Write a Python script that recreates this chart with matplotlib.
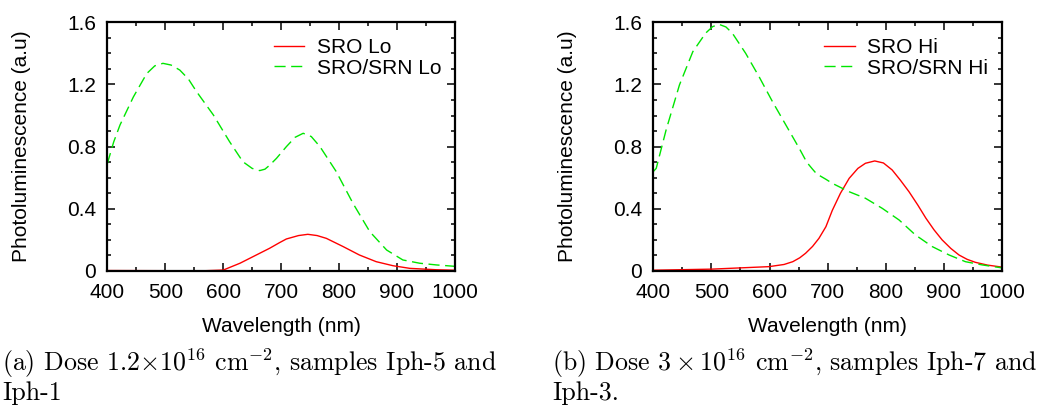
import matplotlib
matplotlib.use("Agg")
import matplotlib.pyplot as plt
from matplotlib.ticker import MultipleLocator, FixedLocator, FixedFormatter

# ---------------- data ----------------
lo_srn_wl = [400, 411, 422, 445, 468, 482, 496, 510, 525, 540, 554, 583, 611, 634, 650, 663, 672,
             680, 692, 709, 724, 738, 752, 767, 795, 824, 853, 882, 910, 939, 968, 1000]
lo_srn_pl = [0.69, 0.83, 0.94, 1.12, 1.27, 1.32, 1.336, 1.325, 1.293, 1.235, 1.154, 1.004, 0.832,
             0.703, 0.660, 0.646, 0.655, 0.68, 0.725, 0.80, 0.860, 0.886, 0.865, 0.80, 0.64, 0.435,
             0.253, 0.135, 0.071, 0.05, 0.039, 0.03]

lo_sro_wl = [400, 500, 570, 600, 629, 663, 680, 697, 709, 730, 746, 762, 778, 807, 835, 864, 893,
             922, 968, 1000]
lo_sro_pl = [0.003, 0.002, 0.002, 0.006, 0.05, 0.114, 0.146, 0.182, 0.206, 0.228, 0.236, 0.228,
             0.21, 0.157, 0.103, 0.06, 0.034, 0.017, 0.008, 0.005]

hi_srn_wl = [400, 405, 422, 445, 468, 490, 502, 513, 525, 536, 559, 582, 605, 628, 651, 664, 674,
             681, 697, 708, 737, 765, 794, 823, 851, 880, 909, 937, 966, 1000]
hi_srn_pl = [0.64, 0.66, 0.907, 1.197, 1.411, 1.53, 1.572, 1.587, 1.57, 1.53, 1.40, 1.25, 1.09,
             0.94, 0.79, 0.70, 0.655, 0.625, 0.59, 0.564, 0.51, 0.468, 0.403, 0.328, 0.232, 0.157,
             0.103, 0.06, 0.039, 0.02]

hi_sro_wl = [400, 500, 599, 625, 640, 652, 662, 674, 685, 697, 708, 722, 737, 752, 765, 781, 796,
             811, 825, 840, 855, 869, 883, 897, 912, 926, 940, 954, 975, 1000]
hi_sro_pl = [0.005, 0.012, 0.028, 0.042, 0.06, 0.085, 0.114, 0.158, 0.21, 0.285, 0.39, 0.50,
             0.596, 0.66, 0.693, 0.708, 0.695, 0.65, 0.585, 0.51, 0.425, 0.34, 0.265, 0.2, 0.145,
             0.103, 0.075, 0.056, 0.038, 0.025]

x_ticks = [400, 500, 600, 700, 800, 900, 1000]
x_tick_labels = ["400", "500", "600", "700", "800", "900", "1000"]
y_ticks = [0, 0.4, 0.8, 1.2, 1.6]
y_tick_labels = ["0", "0.4", "0.8", "1.2", "1.6"]

panels = [
    dict(sro=(lo_sro_wl, lo_sro_pl), srn=(lo_srn_wl, lo_srn_pl),
         labels=("SRO Lo", "SRO/SRN Lo"),
         caption1=r"(a) Dose $1.2{\times}10^{16}$ cm$^{-2}$, samples Iph-5 and",
         caption2="Iph-1"),
    dict(sro=(hi_sro_wl, hi_sro_pl), srn=(hi_srn_wl, hi_srn_pl),
         labels=("SRO Hi", "SRO/SRN Hi"),
         caption1=r"(b) Dose $3 \times 10^{16}$ cm$^{-2}$, samples Iph-7 and",
         caption2="Iph-3."),
]

# ---------------- figure ----------------
W, H = 1051, 407
plt.rcParams["font.family"] = ["Liberation Sans", "DejaVu Sans"]
plt.rcParams["mathtext.fontset"] = "cm"
fig = plt.figure(figsize=(W / 100, H / 100), dpi=100)

ax_rects = [
    [107.3 / W, 1 - 271 / H, (455 - 107.3) / W, (271 - 22.3) / H],
    [653.3 / W, 1 - 271 / H, (1002 - 653.3) / W, (271 - 22.3) / H],
]
caption_x = [2 / W, 552 / W]

FS = 15
CFS = 18.6
for rect, p, cx in zip(ax_rects, panels, caption_x):
    ax = fig.add_axes(rect)
    ax.plot(*p["sro"], color="#ff0000", lw=1.0, label=p["labels"][0])
    ax.plot(*p["srn"], color="#00e600", lw=1.0, linestyle=(0, (8, 4)), label=p["labels"][1])
    ax.set_xlim(400, 1000)
    ax.set_ylim(0, 1.6)
    ax.xaxis.set_major_locator(FixedLocator(x_ticks))
    ax.xaxis.set_major_formatter(FixedFormatter(x_tick_labels))
    ax.xaxis.set_minor_locator(MultipleLocator(50))
    ax.yaxis.set_major_locator(FixedLocator(y_ticks))
    ax.yaxis.set_major_formatter(FixedFormatter(y_tick_labels))
    ax.yaxis.set_minor_locator(MultipleLocator(0.1))
    ax.tick_params(which="both", direction="in", top=True, right=True, labelsize=FS,
                   colors="black")
    ax.tick_params(which="major", length=6, width=1.1)
    ax.tick_params(which="minor", length=3, width=1.1)
    ax.tick_params(axis="x", pad=9)
    ax.tick_params(axis="y", pad=8)
    for s in ax.spines.values():
        s.set_linewidth(1.6)
    ax.set_xlabel("Wavelength (nm)", fontsize=FS)
    ax.set_ylabel("Photoluminescence (a.u)", fontsize=FS)
    ax.xaxis.set_label_coords(0.5, -0.185)
    ax.yaxis.set_label_coords(-0.22, 0.5)
    ax.legend(loc="upper right", bbox_to_anchor=(0.96, 0.935), frameon=False, fontsize=FS,
              handlelength=1.45, handletextpad=0.6, labelspacing=0.05, borderpad=0,
              borderaxespad=0)
    fig.text(cx, 1 - 371 / H, p["caption1"], fontsize=CFS, family="cmr10",
             ha="left", va="baseline")
    fig.text(cx, 1 - 400 / H, p["caption2"], fontsize=CFS, family="cmr10",
             ha="left", va="baseline")

fig.savefig("out.png", dpi=100)
